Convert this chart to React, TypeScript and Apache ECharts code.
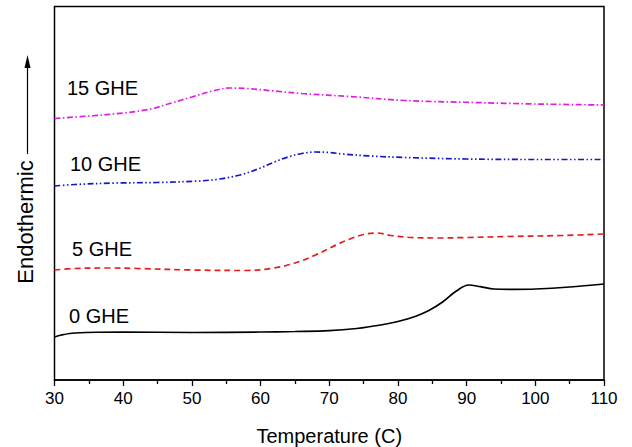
import React, { useEffect, useRef } from "react";
import * as echarts from "echarts";

// Temperature (C) / heat flow (arbitrary units, stacked offsets)
const ghe0T = [30, 31, 33, 40, 50, 60, 65, 70, 74, 77.5, 80, 82.5, 84.5, 86.5, 88.5, 90.3, 92, 94, 97, 100, 105, 110];
const ghe0Y = [43, 45, 47, 48, 47.5, 48, 48.5, 49.3, 51.5, 55, 58.5, 63.5, 69.5, 78, 89, 95, 93.3, 91, 90.7, 91, 93, 96];

const ghe5T = [30, 33, 38, 42, 50, 58, 62, 65, 68, 71, 73, 75, 77, 79, 82, 86, 90, 96, 104, 110];
const ghe5Y = [110, 111.5, 112, 111.5, 110, 109.5, 112, 117, 125, 135, 141, 145.5, 147, 144.5, 142.5, 142, 142.5, 143.5, 144.5, 146];

const ghe10T = [30, 33, 39, 45, 51, 54, 57, 60, 62, 64, 66, 68, 70, 72, 76, 81, 90, 100, 110];
const ghe10Y = [194, 195.5, 197, 197.5, 199, 201, 205, 212, 218, 223, 226.5, 228, 227.5, 226, 224, 222.5, 221, 220.5, 220.5];

const ghe15T = [30, 35, 40, 44, 47, 50, 53, 55.5, 58, 62, 66, 73, 81, 91, 100, 110];
const ghe15Y = [261.5, 264, 267, 271, 277, 283, 289, 292, 291.5, 289, 286.5, 283.5, 279.5, 277.5, 276, 275];

const xTicks = { min: 30, max: 110, interval: 10 };
const seriesNames = ["0 GHE", "5 GHE", "10 GHE", "15 GHE"];
const seriesColors = ["#000000", "#e41c1c", "#1515cc", "#e01ee0"];

const zip = (t: number[], y: number[]) => t.map((v, i) => [v, y[i]]);

export default function App() {
  const ref = useRef<HTMLDivElement>(null);
  useEffect(() => {
    if (!ref.current) return;
    const chart = echarts.init(ref.current, undefined, { renderer: "svg" });
    const font = "'Liberation Sans', Arial, sans-serif";
    const mk = (name: string, data: number[][], color: string, dash: any) => ({
      name,
      type: "line",
      data,
      smooth: 0.35,
      showSymbol: false,
      lineStyle: { color, width: 1.7, type: dash },
    });
    chart.setOption({
      animation: false,
      grid: {
        left: 54.5,
        right: 28,
        top: 6.5,
        bottom: 67,
        show: true,
        borderColor: "#000",
        borderWidth: 1.5,
        containLabel: false,
        outerBoundsMode: "none",
      },
      xAxis: {
        type: "value",
        min: xTicks.min,
        max: xTicks.max,
        interval: xTicks.interval,
        name: "Temperature (C)",
        nameLocation: "middle",
        nameGap: 46,
        nameTextStyle: { fontSize: 20, color: "#000", fontFamily: font },
        axisLine: { lineStyle: { color: "#000", width: 1.5 } },
        axisTick: { show: true, length: 6, lineStyle: { color: "#000", width: 1.3 } },
        minorTick: { show: true, splitNumber: 2, length: 4, lineStyle: { color: "#000", width: 1.3 } },
        axisLabel: { fontSize: 17, color: "#000", fontFamily: font, margin: 10 },
        splitLine: { show: false },
      },
      yAxis: {
        type: "value",
        min: 0,
        max: 373.5,
        show: false,
        splitLine: { show: false },
      },
      series: [
        mk(seriesNames[0], zip(ghe0T, ghe0Y), seriesColors[0], "solid"),
        mk(seriesNames[1], zip(ghe5T, ghe5Y), seriesColors[1], [6, 4]),
        mk(seriesNames[2], zip(ghe10T, ghe10Y), seriesColors[2], [6, 2.5, 1.5, 2.5, 1.5, 2.5]),
        mk(seriesNames[3], zip(ghe15T, ghe15Y), seriesColors[3], [6, 2.5, 1.5, 2.5]),
      ],
      graphic: [
        { type: "text", left: 67, top: 78, style: { text: seriesNames[3], fontSize: 20, fill: "#000", fontFamily: font } },
        { type: "text", left: 70, top: 154, style: { text: seriesNames[2], fontSize: 20, fill: "#000", fontFamily: font } },
        { type: "text", left: 72, top: 239, style: { text: seriesNames[1], fontSize: 20, fill: "#000", fontFamily: font } },
        { type: "text", left: 69, top: 306, style: { text: seriesNames[0], fontSize: 20, fill: "#000", fontFamily: font } },
        {
          type: "text",
          x: 25,
          y: 222,
          rotation: Math.PI / 2,
          style: { text: "Endothermic", fontSize: 22, fill: "#000", fontFamily: font, align: "center", verticalAlign: "middle" },
        },
        { type: "line", shape: { x1: 27.5, y1: 64, x2: 27.5, y2: 154 }, style: { stroke: "#000", lineWidth: 1.2 } },
        { type: "polygon", shape: { points: [[27.5, 55], [24.5, 68], [30.5, 68]] }, style: { fill: "#000" } },
      ],
    });
    return () => chart.dispose();
  }, []);
  return <div ref={ref} style={{ position: "absolute", left: 0, top: 0, width: 632, height: 447, background: "#fff" }} />;
}
